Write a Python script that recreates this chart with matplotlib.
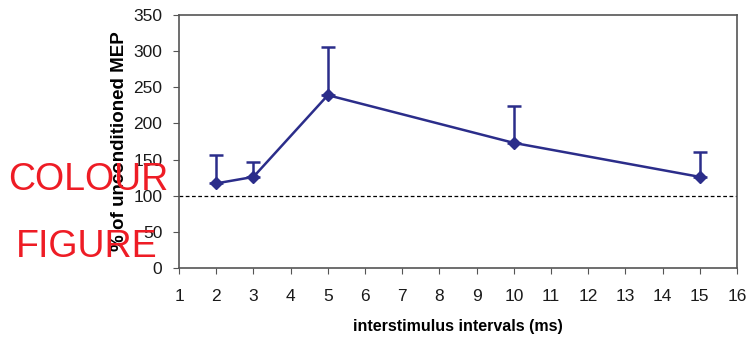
import numpy as np
import matplotlib as mpl
import matplotlib.pyplot as plt

mpl.rcParams['font.family'] = ['Liberation Sans', 'DejaVu Sans']

# data
isi = [2, 3, 5, 10, 15]
mep = [117, 126, 239, 173, 126]
err_up = [39, 21, 66, 51, 34]
x_ticks = list(range(1, 17))
y_ticks = list(range(0, 351, 50))

navy = "#2b2d8a"

fig = plt.figure(figsize=(7.46, 3.38), dpi=100)
ax = fig.add_axes([0.24, 0.207, 0.748, 0.749])

ax.errorbar(isi, mep, yerr=[np.zeros(len(err_up)), err_up], color=navy,
            lw=1.8, marker="D", ms=6, capsize=5, capthick=1.8, elinewidth=1.8)
ax.axhline(100, color="black", lw=0.9, ls=(0, (3, 2)))

ax.set_xlim(1, 16)
ax.set_ylim(0, 350)
ax.set_xticks(x_ticks)
ax.set_yticks(y_ticks)
ax.tick_params(labelsize=12.5, length=4, color="#555555", pad=8, labelcolor="#1a1a1a")
ax.tick_params(axis="x", pad=11)
for s in ax.spines.values():
    s.set_color("#555555")
    s.set_linewidth(1.2)

ax.set_xlabel("interstimulus intervals (ms)", fontsize=11.5, fontweight="bold", labelpad=11)
ax.set_ylabel("% of unconditioned MEP", fontsize=13.5, fontweight="bold", labelpad=4)

fig.text(88 / 746, 1 - 180 / 338, "COLOUR", color="#ee1c25", fontsize=27,
         ha="center", va="center")
fig.text(87 / 746, 1 - 247 / 338, "FIGURE", color="#ee1c25", fontsize=27,
         ha="center", va="center")

fig.savefig("out.png", dpi=100)
